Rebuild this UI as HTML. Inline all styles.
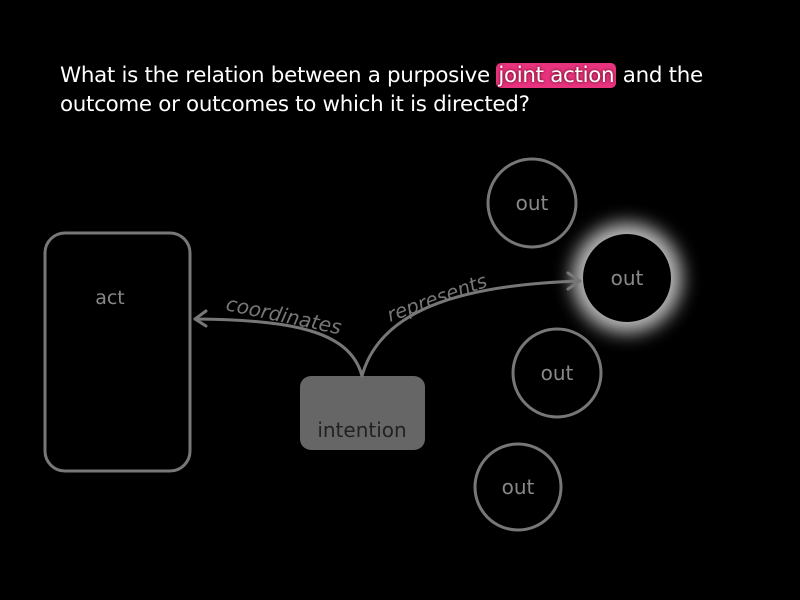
<!DOCTYPE html>
<html><head><style>
body{margin:0;background:#000;width:800px;height:600px;overflow:hidden;font-family:"DejaVu Sans","Liberation Sans",sans-serif}
.t{position:absolute;left:60px;top:61px;color:#fff;font-size:21.4px;line-height:29px;letter-spacing:-0.3px}
.h{background:#e8337f;border-radius:5px;padding:0 2px;text-shadow:0 0 3px #400}
</style></head><body>
<div class="t">What is the relation between a purposive <span class="h">joint action</span> and the<br>outcome or outcomes to which it is directed?</div>
<svg width="800" height="600" style="position:absolute;left:0;top:0">
<defs><filter id="g" x="-50%" y="-50%" width="200%" height="200%"><feGaussianBlur stdDeviation="9"/></filter></defs>
<rect x="45" y="233" width="145" height="238" rx="20" fill="none" stroke="#777" stroke-width="3"/>
<text x="110" y="304" fill="#888" font-size="19" text-anchor="middle" font-family="DejaVu Sans">act</text>
<rect x="300" y="376" width="125" height="74" rx="11" fill="#666"/>
<text x="362" y="437" fill="#222" font-size="20" text-anchor="middle" font-family="DejaVu Sans">intention</text>
<circle cx="532" cy="203" r="44" fill="none" stroke="#777" stroke-width="3"/>
<text x="532" y="210" fill="#888" font-size="20" text-anchor="middle" font-family="DejaVu Sans">out</text>
<circle cx="627" cy="278" r="55" fill="#bbb" filter="url(#g)"/>
<circle cx="627" cy="278" r="44" fill="#000"/>
<text x="627" y="285" fill="#888" font-size="20" text-anchor="middle" font-family="DejaVu Sans">out</text>
<circle cx="557" cy="373" r="44" fill="none" stroke="#777" stroke-width="3"/>
<text x="557" y="380" fill="#888" font-size="20" text-anchor="middle" font-family="DejaVu Sans">out</text>
<circle cx="518" cy="487" r="43" fill="none" stroke="#777" stroke-width="3"/>
<text x="518" y="494" fill="#888" font-size="20" text-anchor="middle" font-family="DejaVu Sans">out</text>
<g fill="none" stroke="#777" stroke-width="3" stroke-linecap="round" stroke-linejoin="round">
<path d="M362 376 C350 330 290 320 195 319"/>
<path d="M206 311 L195 319 L206 326"/>
<path d="M362 376 C380 310 460 285 580 281"/>
<path d="M568 273 L580 281 L568 289"/>
</g>
<text font-size="20" fill="#777" font-style="italic" font-family="DejaVu Sans" transform="translate(225,310) rotate(12)">coordinates</text>
<text font-size="19.5" fill="#777" font-style="italic" font-family="DejaVu Sans" transform="translate(390,322) rotate(-20)">represents</text>
</svg>
</body></html>
